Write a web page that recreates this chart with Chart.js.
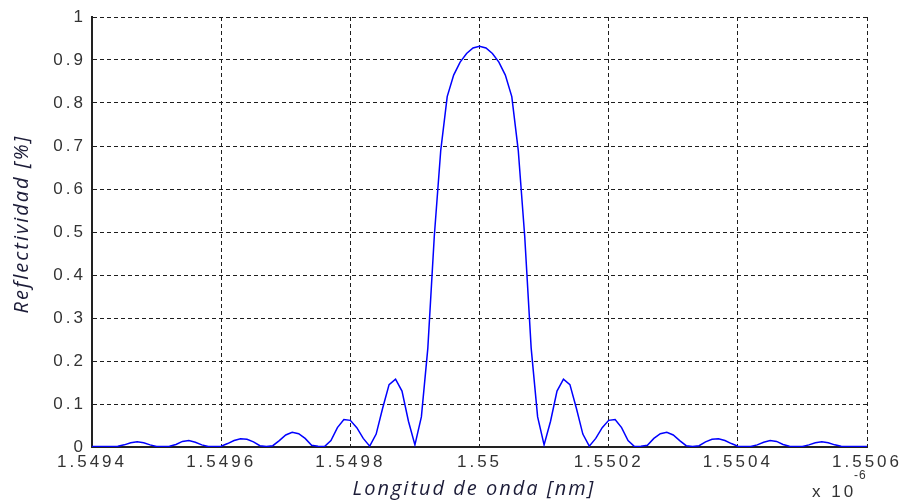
<!DOCTYPE html>
<html>
<head>
<meta charset="utf-8">
<script src="https://cdn.jsdelivr.net/npm/chart.js@4.4.0/dist/chart.umd.min.js"></script>
<style>
  html, body { margin: 0; padding: 0; background: #ffffff; }
  #wrap { width: 907px; height: 503px; }
</style>
</head>
<body>
<div id="wrap"><canvas id="c" width="907" height="503"></canvas></div>
<script>
// Wavelength (x 10^-6 m)
const wavelength = [
  1.54940,1.54941,1.54942,1.54943,1.54944,1.54945,1.54946,1.54947,1.54948,1.54949,
  1.54950,1.54951,1.54952,1.54953,1.54954,1.54955,1.54956,1.54957,1.54958,1.54959,
  1.54960,1.54961,1.54962,1.54963,1.54964,1.54965,1.54966,1.54967,1.54968,1.54969,
  1.54970,1.54971,1.54972,1.54973,1.54974,1.54975,1.54976,1.54977,1.54978,1.54979,
  1.54980,1.54981,1.54982,1.54983,1.54984,1.54985,1.54986,1.54987,1.54988,1.54989,
  1.54990,1.54991,1.54992,1.54993,1.54994,1.54995,1.54996,1.54997,1.54998,1.54999,
  1.55000,
  1.55001,1.55002,1.55003,1.55004,1.55005,1.55006,1.55007,1.55008,1.55009,1.55010,
  1.55011,1.55012,1.55013,1.55014,1.55015,1.55016,1.55017,1.55018,1.55019,1.55020,
  1.55021,1.55022,1.55023,1.55024,1.55025,1.55026,1.55027,1.55028,1.55029,1.55030,
  1.55031,1.55032,1.55033,1.55034,1.55035,1.55036,1.55037,1.55038,1.55039,1.55040,
  1.55041,1.55042,1.55043,1.55044,1.55045,1.55046,1.55047,1.55048,1.55049,1.55050,
  1.55051,1.55052,1.55053,1.55054,1.55055,1.55056,1.55057,1.55058,1.55059,1.55060
];

// Reflectivity
const reflectivity = [
  0.001,0.001,0.001,0.001,0.002,0.005,0.010,0.012,0.010,0.005,
  0.001,0.001,0.002,0.006,0.013,0.015,0.011,0.005,0.001,0.001,
  0.002,0.008,0.015,0.019,0.018,0.012,0.003,0.001,0.003,0.015,
  0.028,0.034,0.031,0.020,0.004,0.002,0.001,0.015,0.045,0.064,
  0.062,0.045,0.020,0.002,0.030,0.090,0.145,0.158,0.130,0.060,
  0.005,0.070,0.230,0.490,0.690,0.815,0.865,0.895,0.915,0.928,
  0.932,
  0.928,0.915,0.895,0.865,0.815,0.690,0.490,0.230,0.070,0.005,
  0.060,0.130,0.158,0.145,0.090,0.030,0.002,0.020,0.045,0.062,
  0.064,0.045,0.015,0.001,0.002,0.004,0.020,0.031,0.034,0.028,
  0.015,0.003,0.001,0.003,0.012,0.018,0.019,0.015,0.008,0.002,
  0.001,0.001,0.005,0.011,0.015,0.013,0.006,0.002,0.001,0.001,
  0.005,0.010,0.012,0.010,0.005,0.002,0.001,0.001,0.001,0.001
];

const xTicks = [1.5494, 1.5496, 1.5498, 1.55, 1.5502, 1.5504, 1.5506];
const yTicks = [0, 0.1, 0.2, 0.3, 0.4, 0.5, 0.6, 0.7, 0.8, 0.9, 1];

const xTitle = 'Longitud de onda [nm]';
const yTitle = 'Reflectividad [%]';
const expBase = 'x 10';
const expPower = '-6';

const spacingPlugin = {
  id: 'spacing',
  beforeLayout(chart) { chart.ctx.letterSpacing = '3px'; },
  beforeDraw(chart) { chart.ctx.letterSpacing = '3px'; },
  afterDraw(chart) {
    const ctx = chart.ctx;
    ctx.save();
    ctx.letterSpacing = '2px';
    ctx.fillStyle = '#1c1c38';
    ctx.font = 'italic 20px "Open Sans"';
    ctx.textAlign = 'center';
    ctx.textBaseline = 'middle';
    ctx.fillText(xTitle, 474, 489);
    ctx.save();
    ctx.translate(22, 224);
    ctx.rotate(-Math.PI / 2);
    ctx.fillText(yTitle, 0, 0);
    ctx.restore();
    ctx.letterSpacing = '3px';
    ctx.fillStyle = '#333333';
    ctx.textAlign = 'left';
    ctx.textBaseline = 'alphabetic';
    ctx.font = '17px "Liberation Sans"';
    ctx.fillText(expBase, 812, 497);
    ctx.font = '12px "Liberation Sans"';
    ctx.letterSpacing = '1px';
    ctx.fillText(expPower, 854, 479);
    ctx.restore();
  }
};

const tickFont = { family: '"Liberation Sans", Arial, sans-serif', size: 17 };

new Chart(document.getElementById('c'), {
  type: 'line',
  data: {
    datasets: [{
      data: wavelength.map((w, i) => ({ x: w, y: reflectivity[i] })),
      borderColor: '#0000ff',
      borderWidth: 1.5,
      pointRadius: 0,
      tension: 0,
      fill: false
    }]
  },
  options: {
    responsive: false,
    animation: false,
    devicePixelRatio: 1,
    layout: { padding: { top: 17, right: 39, left: 0, bottom: 0 } },
    plugins: { legend: { display: false }, tooltip: { enabled: false } },
    scales: {
      x: {
        type: 'linear',
        min: 1.5494,
        max: 1.5506,
        afterBuildTicks: (s) => { s.ticks = xTicks.map(v => ({ value: v })); },
        afterFit: (s) => { s.height = 56; },
        ticks: {
          autoSkip: false,
          maxRotation: 0,
          padding: 5,
          color: '#333333',
          font: tickFont,
          callback: (v) => String(v)
        },
        grid: { color: '#1e1e1e', lineWidth: 1, drawTicks: false },
        border: { display: true, color: '#222222', width: 2, dash: [4, 3] }
      },
      y: {
        type: 'linear',
        min: 0,
        max: 1,
        afterBuildTicks: (s) => { s.ticks = yTicks.map(v => ({ value: v })); },
        afterFit: (s) => { s.width = 92; },
        ticks: {
          autoSkip: false,
          padding: 6,
          color: '#333333',
          font: tickFont,
          callback: (v) => String(v)
        },
        grid: { color: '#1e1e1e', lineWidth: 1, drawTicks: false },
        border: { display: true, color: '#222222', width: 2, dash: [4, 3] }
      }
    }
  },
  plugins: [spacingPlugin]
});
</script>
</body>
</html>
